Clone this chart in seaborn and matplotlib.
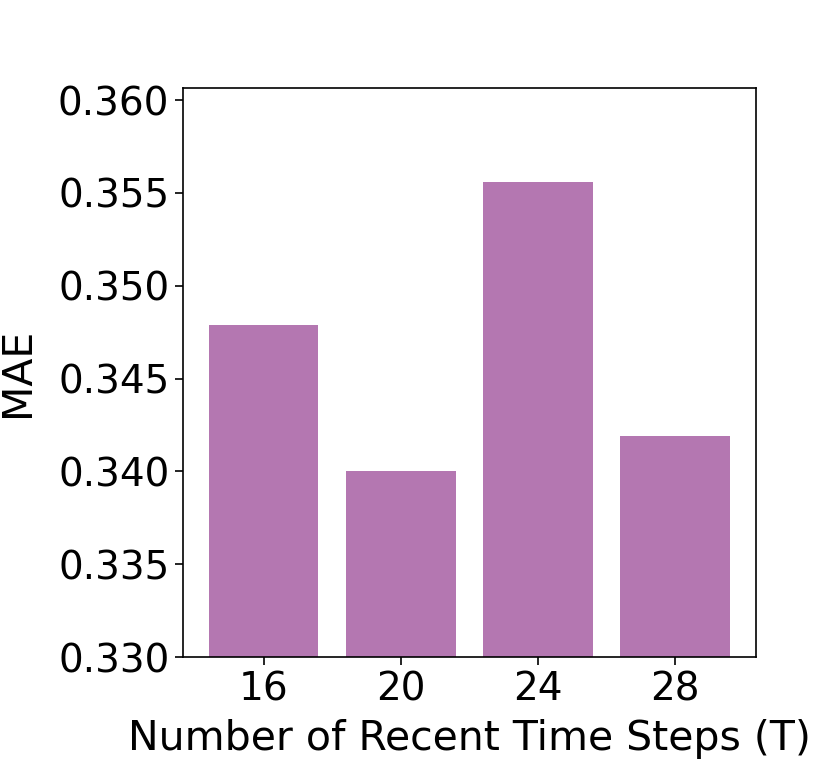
import matplotlib
matplotlib.use('Agg')
import matplotlib.pyplot as plt
import seaborn as sns
import pandas as pd

# data
time_steps = ['16', '20', '24', '28']
mae = [0.3479, 0.3400, 0.3556, 0.3419]
y_ticks = [0.330, 0.335, 0.340, 0.345, 0.350, 0.355, 0.360]

df = pd.DataFrame({'T': time_steps, 'MAE': mae})

fig = plt.figure(figsize=(8.3, 7.65), dpi=100)
ax = fig.add_axes([0.22, 0.141, 0.691, 0.744])

sns.barplot(data=df, x='T', y='MAE', color='#b477b1', saturation=1,
            width=0.8, ax=ax)

ax.set_ylim(0.330, 0.36065)
ax.set_yticks(y_ticks)
ax.set_yticklabels([f'{v:.3f}' for v in y_ticks])
ax.set_xlim(-0.59, 3.59)
ax.tick_params(labelsize=28, length=6, width=1.2)
ax.set_xlabel('Number of Recent Time Steps (T)', fontsize=29.5, labelpad=8)
ax.set_ylabel('MAE', fontsize=29.5, labelpad=14)
for s in ax.spines.values():
    s.set_linewidth(1.2)

fig.savefig('out.png', dpi=100)
